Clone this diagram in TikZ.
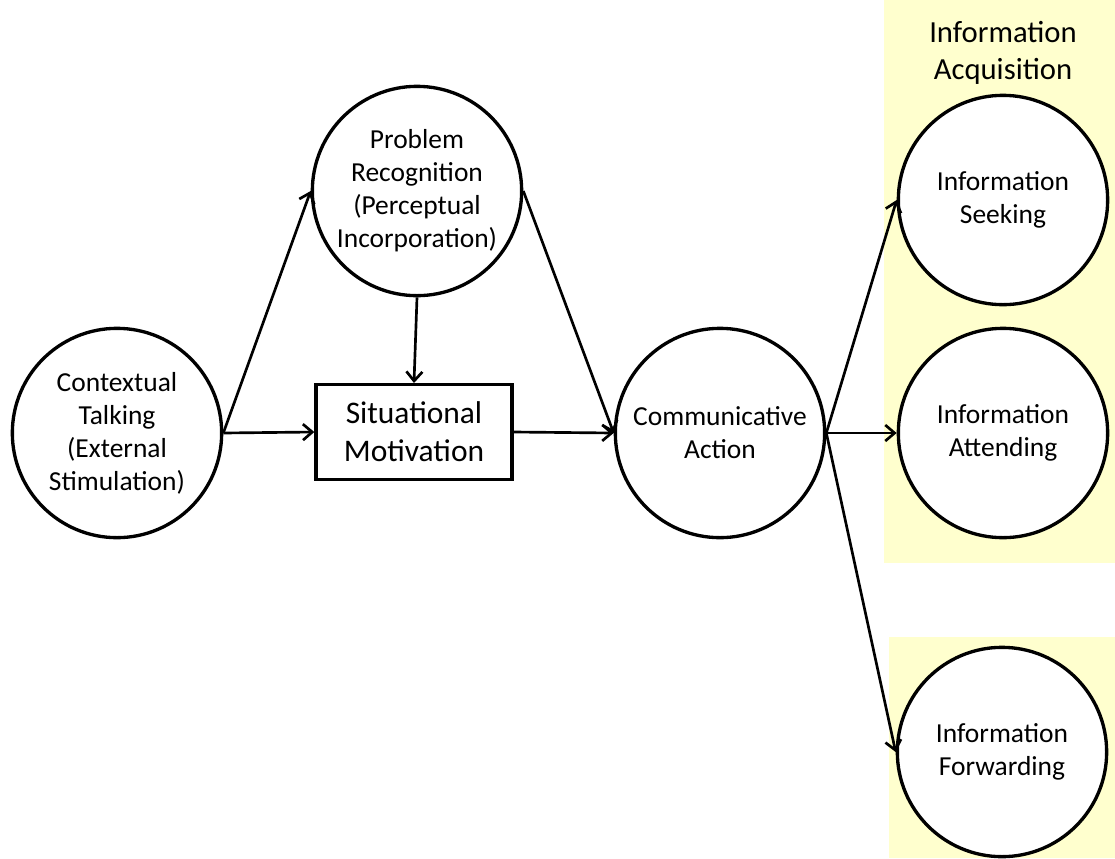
\documentclass[tikz,border=0pt]{standalone}
\usepackage{fontspec}
\setmainfont{Carlito}
\usetikzlibrary{arrows.meta}
\definecolor{acqyellow}{RGB}{255,255,206}
\begin{document}
\begin{tikzpicture}[>={Straight Barb[length=7pt,width=12pt]}, x=0.75pt, y=-0.75pt, line width=2pt,
  state/.style={circle,draw,line width=2.5pt,fill=white,minimum size=157pt,inner sep=0pt,align=center,font=\fontsize{20.6}{24.75}\selectfont},
  motive/.style={rectangle,draw,line width=2.5pt,fill=white,minimum width=147pt,minimum height=71pt,align=center,font=\fontsize{23.6}{28.5}\selectfont}]
 \useasboundingbox (0,0) rectangle (1115,858);
 \fill[acqyellow] (884,0) rectangle (1115,563);
 \fill[acqyellow] (889,637) rectangle (1115,858);
 \node[align=center,font=\fontsize{23}{27.75}\selectfont] (acq) at (1003,53) {Information\\Acquisition};
 \node[state] (ctx) at (117,433) {Contextual\\Talking\\(External\\Stimulation)};
 \node[state] (prob) at (417,191) {Problem\\Recognition\\(Perceptual\\Incorporation)};
 \node[motive] (sit) at (414,432) {Situational\\Motivation};
 \node[state] (comm) at (720,433) {Communicative\\Action};
 \node[state] (seek) at (1003,200) {Information\\Seeking};
 \node[state] (attend) at (1003,433) {Information\\Attending};
 \node[state] (fwd) at (1002,752) {Information\\Forwarding};
 \draw[->] (ctx.east) -- (prob.west);
 \draw[->] (ctx.east) -- (sit.west);
 \draw[->] (prob.south) -- (sit.north);
 \draw[->] (sit.east) -- (comm.west);
 \draw[->] (prob.east) -- (comm.west);
 \draw[->] (comm.east) -- (seek.west);
 \draw[->] (comm.east) -- (attend.west);
 \draw[->] (comm.east) -- (fwd.west);
\end{tikzpicture}
\end{document}
